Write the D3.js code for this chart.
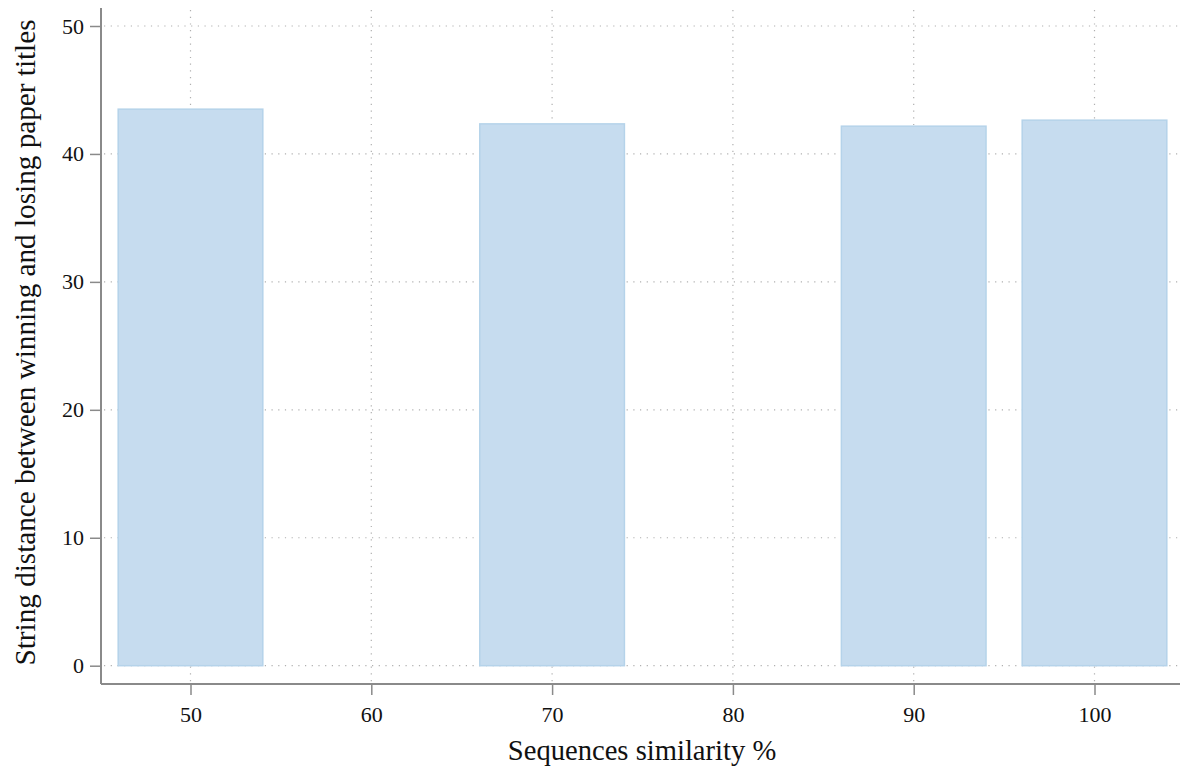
<!DOCTYPE html>
<html><head><meta charset="utf-8">
<script src="https://cdn.jsdelivr.net/npm/d3@7"></script>
<style>body{margin:0;background:#fff}svg{display:block}</style>
</head><body>
<svg id="c" width="1180" height="771"></svg>
<script>
const categories = [50, 70, 90, 100];
const values = [43.5, 42.35, 42.17, 42.64];
const xTicks = [50, 60, 70, 80, 90, 100];
const yTicks = [0, 10, 20, 30, 40, 50];
const barWidth = 8;

(function () {
const svg = d3.select("#c");
const font = "'Liberation Serif','Times New Roman',serif";
const pLeft = 101, pRight = 1180, pTop = 8, pBottom = 684;
const x = d3.scaleLinear().domain([50, 100]).range([190.5, 1094.5]);
const y = d3.scaleLinear().domain([0, 50]).range([665.7, 26]);

// grid
const grid = svg.append("g").attr("stroke", "#b0b0b0").attr("stroke-width", 1.2).attr("stroke-dasharray", "1.2,5.5");
grid.selectAll("line.h").data(yTicks).join("line").attr("class", "h")
  .attr("x1", pLeft + 3).attr("x2", pRight).attr("y1", d => y(d)).attr("y2", d => y(d));
grid.selectAll("line.v").data(xTicks).join("line").attr("class", "v")
  .attr("y1", pTop + 2).attr("y2", pBottom - 2).attr("x1", d => x(d)).attr("x2", d => x(d));

// bars
svg.append("g").selectAll("rect").data(categories).join("rect")
  .attr("x", d => x(d - barWidth / 2))
  .attr("width", d => x(d + barWidth / 2) - x(d - barWidth / 2))
  .attr("y", (d, i) => y(values[i]))
  .attr("height", (d, i) => y(0) - y(values[i]))
  .attr("fill", "#c6dcef").attr("stroke", "#b5d3ea").attr("stroke-width", 1.5);

// axes
const yAxis = svg.append("g").attr("transform", `translate(${pLeft},0)`)
  .call(d3.axisLeft(y).tickValues(yTicks).tickSize(11).tickPadding(6));
const xAxis = svg.append("g").attr("transform", `translate(0,${pBottom})`)
  .call(d3.axisBottom(x).tickValues(xTicks).tickSize(11).tickPadding(11));
[yAxis, xAxis].forEach(a => {
  a.select(".domain").remove();
  a.selectAll(".tick line").attr("stroke", "#8a8a8a").attr("stroke-width", 1.5);
  a.selectAll(".tick text").attr("font-family", font).attr("font-size", 22).attr("fill", "#111");
});
svg.append("line").attr("x1", pLeft).attr("x2", pLeft).attr("y1", pTop).attr("y2", pBottom)
  .attr("stroke", "#8a8a8a").attr("stroke-width", 2);
svg.append("line").attr("x1", pLeft).attr("x2", pRight).attr("y1", pBottom).attr("y2", pBottom)
  .attr("stroke", "#8a8a8a").attr("stroke-width", 2);

svg.append("text").attr("x", 642).attr("y", 760).attr("text-anchor", "middle")
  .attr("font-family", font).attr("font-size", 28.6).attr("fill", "#111")
  .text("Sequences similarity %");
svg.append("text").attr("transform", "translate(35,342.5) rotate(-90)").attr("text-anchor", "middle")
  .attr("font-family", font).attr("font-size", 29.2).attr("fill", "#111")
  .text("String distance between winning and losing paper titles");
})();
</script>
</body></html>
